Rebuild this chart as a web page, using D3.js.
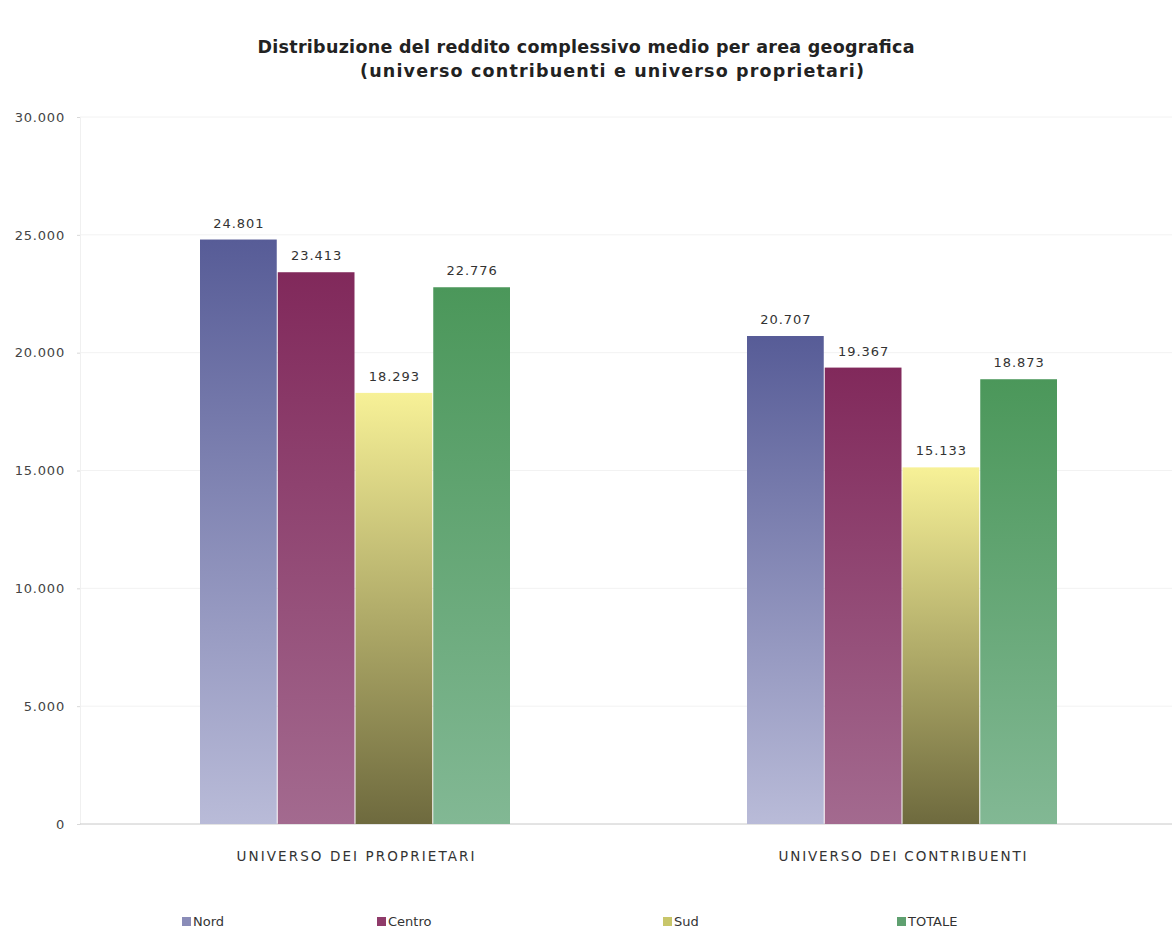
<!DOCTYPE html>
<html><head><meta charset="utf-8">
<script src="https://cdn.jsdelivr.net/npm/d3@7"></script>
<style>body{margin:0;background:#fff;} svg{display:block;}</style>
</head><body>
<svg id="c" width="1172" height="936"></svg>
<script>
const categories = ["UNIVERSO DEI PROPRIETARI", "UNIVERSO DEI CONTRIBUENTI"];
const seriesNames = ["Nord", "Centro", "Sud", "TOTALE"];
const nord = [24801, 20707];
const centro = [23413, 19367];
const sud = [18293, 15133];
const totale = [22776, 18873];
const yTicks = [0, 5000, 10000, 15000, 20000, 25000, 30000];
const seriesValues = [nord, centro, sud, totale];

const gradTop = ["#575c97", "#81295b", "#f7f197", "#4b975a"];
const gradBot = ["#b9bbd8", "#a36a8f", "#6e6a3e", "#82b894"];
const legendCol = ["#8a8cb8", "#8f3b6a", "#c8c66a", "#5fa070"];

const FONT = "Tahoma, 'DejaVu Sans', sans-serif";
const svg = d3.select("#c");
const fmt = v => d3.format(",")(v).replace(/,/g, ".");

const y = d3.scaleLinear().domain([0, 30000]).range([824, 117]);
const x0 = d3.scaleBand().domain(categories).range([82, 1176]).padding(0);
const groupW = 311;

const defs = svg.append("defs");
seriesNames.forEach((s, i) => {
  const g = defs.append("linearGradient").attr("id", "g" + i)
    .attr("x1", 0).attr("y1", 0).attr("x2", 0).attr("y2", 1);
  g.append("stop").attr("offset", "0%").attr("stop-color", gradTop[i]);
  g.append("stop").attr("offset", "100%").attr("stop-color", gradBot[i]);
});

// gridlines
svg.append("g").selectAll("line").data(yTicks.filter(d => d > 0)).join("line")
  .attr("x1", 80).attr("x2", 1172)
  .attr("y1", d => y(d)).attr("y2", d => y(d))
  .attr("stroke", "#f2f2f2").attr("stroke-width", 1);

// y axis
const yAxis = d3.axisLeft(y).tickValues(yTicks).tickFormat(fmt).tickSize(3).tickPadding(12);
const ya = svg.append("g").attr("transform", "translate(80,0)").call(yAxis);
ya.select(".domain").attr("stroke", "#f0f0f0");
ya.selectAll(".tick line").attr("stroke", "#d8d8d8");
ya.selectAll("text").attr("font-family", FONT)
  .attr("font-size", 13).attr("letter-spacing", 0.8).attr("fill", "#444");

// baseline
svg.append("line").attr("x1", 80).attr("x2", 1172).attr("y1", y(0)).attr("y2", y(0))
  .attr("stroke", "#c8c8c8");

// bars
const catLen = [238, 248];
categories.forEach((cat, ci) => {
  const cx = x0(cat) + x0.bandwidth() / 2;
  const x1 = d3.scaleBand().domain(seriesNames).range([cx - groupW / 2, cx + groupW / 2]).padding(0);
  const data = seriesNames.map((s, i) => ({s, i, v: seriesValues[i][ci]}));
  const g = svg.append("g");
  g.selectAll("rect").data(data).join("rect")
    .attr("x", d => x1(d.s)).attr("width", x1.bandwidth() - 1)
    .attr("y", d => y(d.v)).attr("height", d => y(0) - y(d.v))
    .attr("fill", d => `url(#g${d.i})`);
  g.selectAll("text").data(data).join("text")
    .attr("x", d => x1(d.s) + x1.bandwidth() / 2).attr("y", d => y(d.v) - 12)
    .attr("text-anchor", "middle")
    .attr("font-family", FONT).attr("font-size", 13).attr("letter-spacing", 1).attr("fill", "#333")
    .text(d => fmt(d.v));
  svg.append("text").attr("x", cx).attr("y", 861).attr("text-anchor", "middle")
    .attr("font-family", FONT).attr("font-size", 13.5).attr("fill", "#333")
    .attr("textLength", catLen[ci]).attr("lengthAdjust", "spacing")
    .text(cat);
});

// title
const title = svg.append("text").attr("text-anchor", "middle")
  .attr("font-family", FONT).attr("font-weight", "bold")
  .attr("font-size", 17.5).attr("fill", "#222");
title.append("tspan").attr("x", 586).attr("y", 53).attr("textLength", 657).attr("lengthAdjust", "spacing")
  .text("Distribuzione del reddito complessivo medio per area geografica");
title.append("tspan").attr("x", 612).attr("y", 77).attr("textLength", 504).attr("lengthAdjust", "spacing")
  .text("(universo contribuenti e universo proprietari)");

// legend
const legX = [182, 377, 663, 897];
const leg = svg.append("g");
seriesNames.forEach((s, i) => {
  leg.append("rect").attr("x", legX[i]).attr("y", 917).attr("width", 9).attr("height", 9)
    .attr("fill", legendCol[i]);
  leg.append("text").attr("x", legX[i] + 11).attr("y", 926)
    .attr("font-family", FONT).attr("font-size", 13).attr("fill", "#333")
    .text(s);
});
</script>
</body></html>
